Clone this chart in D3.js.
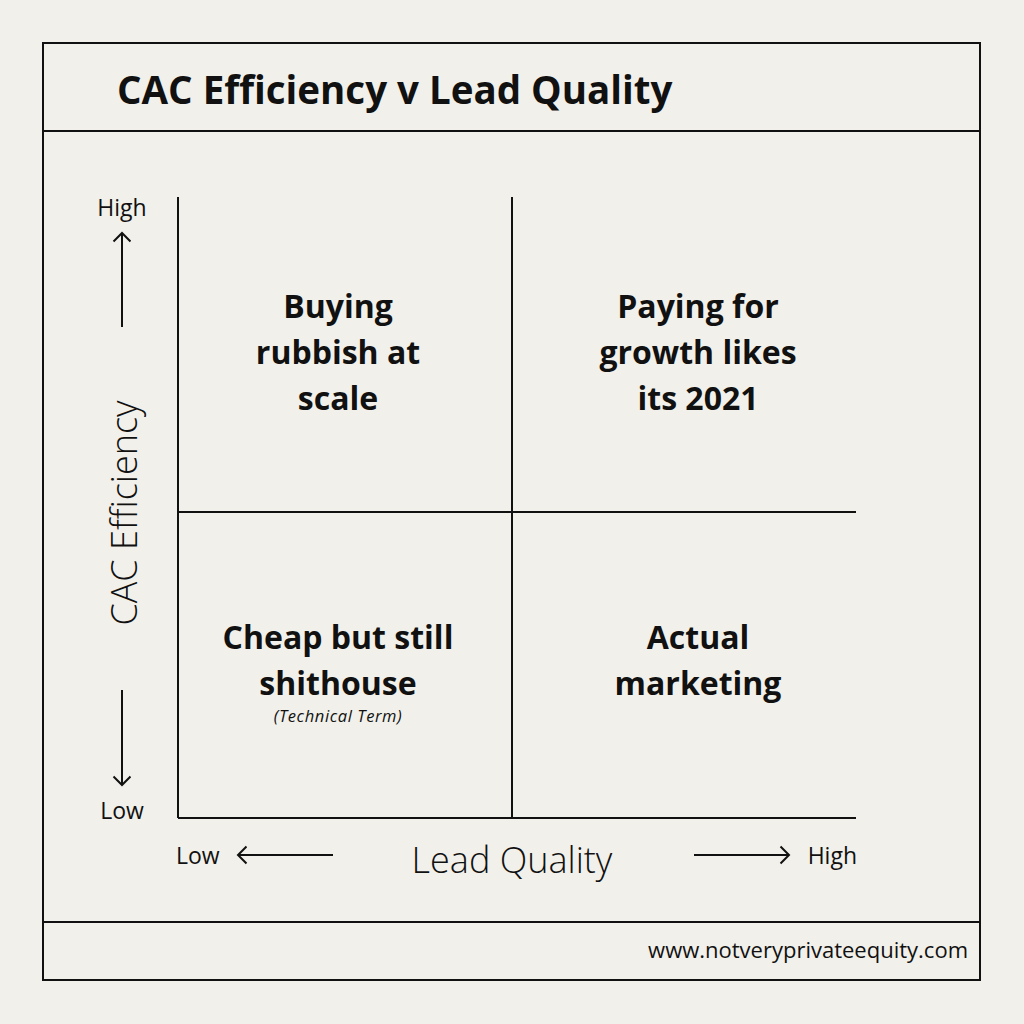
<!DOCTYPE html>
<html>
<head>
<meta charset="utf-8">
<script src="https://cdn.jsdelivr.net/npm/d3@7"></script>
<style>
  body { margin: 0; background: #f1f0ea; }
  svg { display: block; }
</style>
</head>
<body>
<div id="chart"></div>
<script>
const WIDTH = 1024
const HEIGHT = 1024
const BG = "#f1f0ea"
const INK = "#111111"

// axis levels, low to high
const xLevels = ["Low", "High"]
const yLevels = ["Low", "High"]

// quadrant labels: x level, y level, lines, note
const quadX = ["Low", "High", "Low", "High"]
const quadY = ["High", "High", "Low", "Low"]
const quadLines = [
    ["Buying", "rubbish at", "scale"],
    ["Paying for", "growth likes", "its 2021"],
    ["Cheap but still", "shithouse"],
    ["Actual", "marketing"]
]
const quadNotes = ["", "", "(Technical Term)", ""]

const TITLE = "CAC Efficiency v Lead Quality"
const X_TITLE = "Lead Quality"
const Y_TITLE = "CAC Efficiency"
const FOOTER = "www.notveryprivateequity.com"

let svg = d3.select("#chart").append("svg")
    .attr("width", WIDTH)
    .attr("height", HEIGHT)
    .style("background", BG)

// outer frame with header and footer rules
svg.append("rect")
    .attr("x", 43).attr("y", 43)
    .attr("width", 937).attr("height", 937)
    .attr("fill", "none").attr("stroke", INK).attr("stroke-width", 2)
svg.append("line").attr("x1", 43).attr("x2", 980).attr("y1", 131).attr("y2", 131)
    .attr("stroke", INK).attr("stroke-width", 2)
svg.append("line").attr("x1", 43).attr("x2", 980).attr("y1", 922).attr("y2", 922)
    .attr("stroke", INK).attr("stroke-width", 2)

svg.append("text")
    .attr("x", 117).attr("y", 104)
    .attr("font-family", "Open Sans").attr("font-weight", 700)
    .attr("font-size", 38.5).attr("fill", INK)
    .text(TITLE)

svg.append("text")
    .attr("x", 968).attr("y", 958)
    .attr("text-anchor", "end")
    .attr("font-family", "Open Sans").attr("font-size", 22).attr("fill", INK)
    .text(FOOTER)

// plot area
const plot = { left: 178, right: 856, top: 197, bottom: 818 }

// 0..1 on each axis, midpoint is the divider
let xLin = d3.scaleLinear().domain([0, 1]).range([plot.left, 846])
let yLin = d3.scaleLinear().domain([0, 1]).range([plot.bottom, 206])
// label centres for each level
let xPos = d3.scalePoint().domain(xLevels).range([338, 698])
let yTop = d3.scalePoint().domain(yLevels).range([638, 307])

let g = svg.append("g")
let lineStyle = sel => sel.attr("stroke", INK).attr("stroke-width", 2)

// axes and dividers
g.append("line").attr("x1", plot.left).attr("x2", plot.left)
    .attr("y1", plot.top).attr("y2", plot.bottom).call(lineStyle)
g.append("line").attr("x1", plot.left).attr("x2", plot.right)
    .attr("y1", plot.bottom).attr("y2", plot.bottom).call(lineStyle)
g.append("line").attr("x1", xLin(0.5)).attr("x2", xLin(0.5))
    .attr("y1", plot.top).attr("y2", plot.bottom).call(lineStyle)
g.append("line").attr("x1", plot.left).attr("x2", plot.right)
    .attr("y1", yLin(0.5)).attr("y2", yLin(0.5)).call(lineStyle)

// quadrant labels
const LINE_H = 46
quadLines.forEach((lines, i) => {
    let cx = xPos(quadX[i])
    let top = yTop(quadY[i]) + 11
    let t = g.append("text")
        .attr("text-anchor", "middle")
        .attr("font-family", "Open Sans").attr("font-weight", 700)
        .attr("font-size", 32).attr("fill", INK)
    lines.forEach((ln, j) => {
        t.append("tspan").attr("x", cx).attr("y", top + j * LINE_H).text(ln)
    })
    if (quadNotes[i]) {
        g.append("text")
            .attr("x", cx).attr("y", top + (lines.length - 1) * LINE_H + 27)
            .attr("text-anchor", "middle")
            .attr("font-family", "Open Sans").attr("font-style", "italic")
            .attr("font-size", 16.5).attr("letter-spacing", 0.6).attr("fill", INK)
            .text(quadNotes[i])
    }
})

// arrows
function arrow(x1, y1, x2, y2) {
    let ang = Math.atan2(y2 - y1, x2 - x1)
    let h = 12
    let p = d3.path()
    p.moveTo(x1, y1)
    p.lineTo(x2, y2)
    p.moveTo(x2 - h * Math.cos(ang - Math.PI / 4), y2 - h * Math.sin(ang - Math.PI / 4))
    p.lineTo(x2, y2)
    p.lineTo(x2 - h * Math.cos(ang + Math.PI / 4), y2 - h * Math.sin(ang + Math.PI / 4))
    svg.append("path").attr("d", p).attr("fill", "none")
        .attr("stroke", INK).attr("stroke-width", 2)
}
arrow(122, 327, 122, 233)
arrow(122, 690, 122, 785)
arrow(333, 855, 238, 855)
arrow(694, 855, 789, 855)

let small = sel => sel.attr("font-family", "Open Sans").attr("font-size", 23).attr("fill", INK)
svg.append("text").attr("x", 122).attr("y", 216).attr("text-anchor", "middle").call(small).text(yLevels[1])
svg.append("text").attr("x", 122).attr("y", 819).attr("text-anchor", "middle").call(small).text(yLevels[0])
svg.append("text").attr("x", 176).attr("y", 864).call(small).text(xLevels[0])
svg.append("text").attr("x", 857).attr("y", 864).attr("text-anchor", "end").call(small).text(xLevels[1])

svg.append("text")
    .attr("x", 512).attr("y", 873)
    .attr("text-anchor", "middle")
    .attr("font-family", "Open Sans").attr("font-weight", 300)
    .attr("font-size", 36).attr("fill", INK)
    .text(X_TITLE)

svg.append("text")
    .attr("transform", "translate(137,513) rotate(-90)")
    .attr("text-anchor", "middle")
    .attr("font-family", "Open Sans").attr("font-weight", 300)
    .attr("font-size", 36).attr("fill", INK)
    .text(Y_TITLE)
</script>
</body>
</html>
